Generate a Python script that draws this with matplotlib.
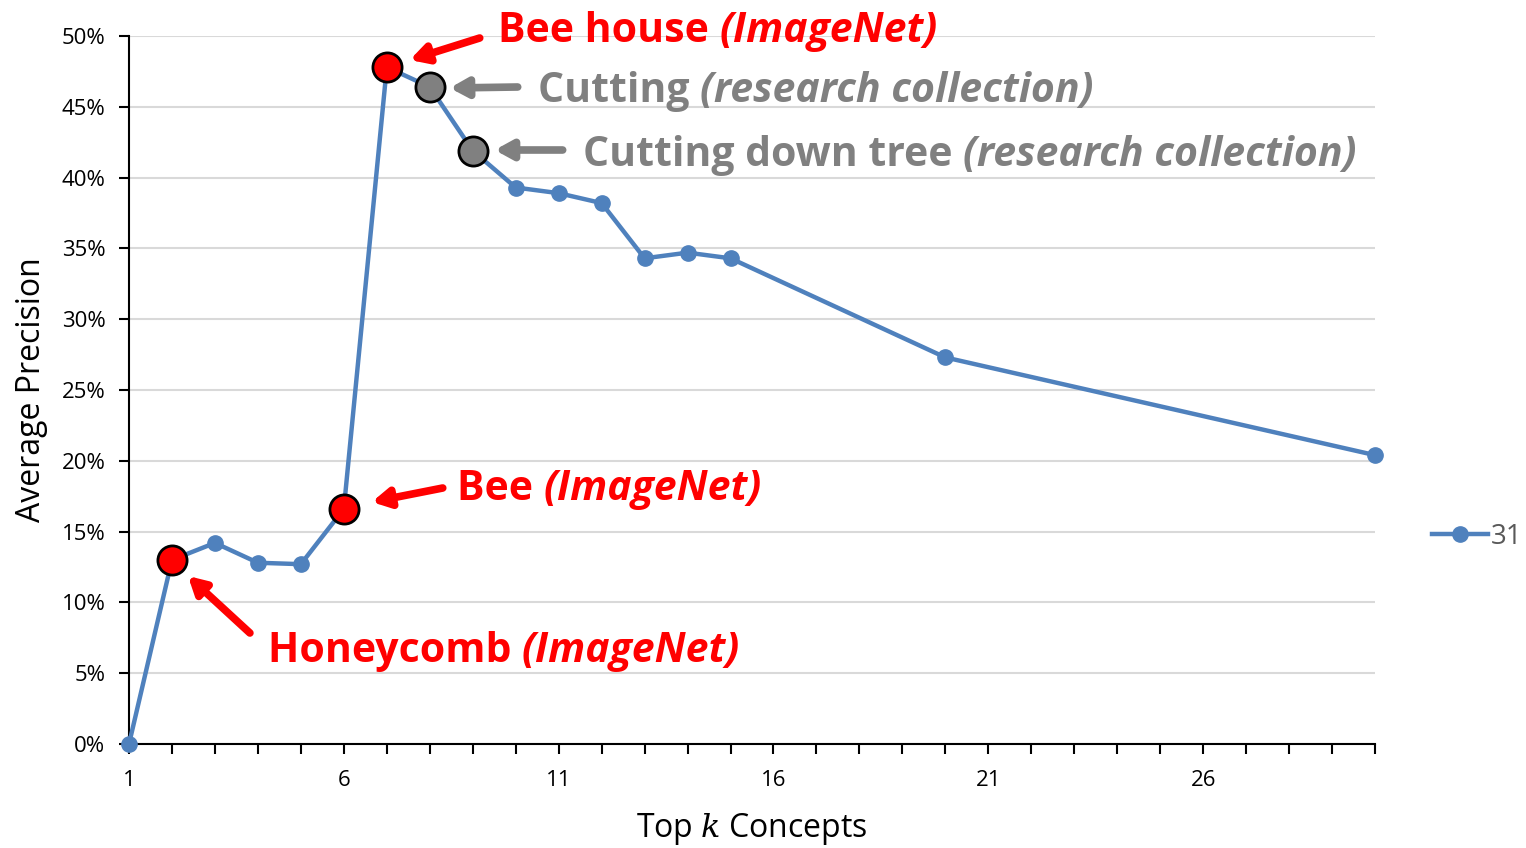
import numpy as np
import matplotlib
matplotlib.use("Agg")
import matplotlib.pyplot as plt
from matplotlib.transforms import offset_copy

plt.rcParams['font.family'] = ['Open Sans', 'DejaVu Sans']
plt.rcParams['mathtext.fontset'] = 'dejavuserif'

# data
k_values = [1, 2, 3, 4, 5, 6, 7, 8, 9, 10, 11, 12, 13, 14, 15, 20, 30]
avg_precision = [0.0, 13.0, 14.2, 12.8, 12.7, 16.6, 47.8, 46.4, 41.9, 39.3, 38.9,
                 38.2, 34.3, 34.7, 34.3, 27.3, 20.4]
series_name = "31"
red_points = [2, 6, 7]      # k of the ImageNet concepts
grey_points = [8, 9]        # k of the research collection concepts
x_tick_labels = [1, 6, 11, 16, 21, 26]

fig = plt.figure(figsize=(15.26, 8.48), dpi=100)
ax = fig.add_axes([129/1526, 1-744/848, 1246/1526, 708/848])

y = np.array(avg_precision) / 100
ax.plot(k_values, y, color='#4F81BD', lw=3.2, marker='o', markersize=11,
        label=series_name, clip_on=False, zorder=3)

for kk, col in [(k, 'red') for k in red_points] + [(k, '#808080') for k in grey_points]:
    i = k_values.index(kk)
    ax.plot([kk], [y[i]], 'o', markersize=21, markerfacecolor=col,
            markeredgecolor='black', markeredgewidth=2, zorder=4)

ax.set_xlim(1, 30)
ax.set_ylim(0, 0.5)
ax.set_xticks(range(1, 31), minor=True)
ax.set_xticks(x_tick_labels)
ax.set_xticklabels([str(v) for v in x_tick_labels])
ax.set_yticks(np.arange(0, 0.51, 0.05))
ax.set_yticklabels(['%d%%' % round(v * 100) for v in np.arange(0, 0.51, 0.05)])
ax.tick_params(axis='both', labelsize=16, direction='out', length=7, width=1.5, color='black')
ax.tick_params(axis='x', which='minor', length=7, width=1.5)
ax.tick_params(axis='x', pad=12)
ax.tick_params(axis='y', pad=10)

ax.grid(axis='y', color='#D9D9D9', lw=1.5)
ax.set_axisbelow(True)
for s in ['top', 'right']:
    ax.spines[s].set_visible(False)
ax.spines['left'].set_linewidth(1.5)
ax.spines['bottom'].set_linewidth(1.5)

ax.set_ylabel('Average Precision', fontsize=23, labelpad=10)
ax.set_xlabel('Top $k$ Concepts', fontsize=23, labelpad=14)

fig.legend(loc='center left', bbox_to_anchor=(1432/1526, 1-537/848), frameon=False,
           fontsize=20, labelcolor='#595959', handlelength=2.0, handletextpad=0.1,
           borderpad=0, borderaxespad=0)

# annotations
def to_data(px, py):
    return 1 + (px - 129) / 43.0, (744 - py) / 14.16 / 100

def label(px, py, s1, s2, col):
    x0, y0 = to_data(px, py)
    t = ax.text(x0, y0, s1, color=col, fontsize=29.5, fontweight='bold',
                va='center', ha='left', clip_on=False)
    fig.canvas.draw()
    w = t.get_window_extent(fig.canvas.get_renderer()).width
    ax.text(x0, y0, s2, color=col, fontsize=29.5, fontweight='bold', style='italic',
            va='center', ha='left', clip_on=False,
            transform=offset_copy(ax.transData, fig=fig, x=w, units='dots'))

def arrow(tx, ty, hx, hy, col):
    ax.annotate('', xy=to_data(hx, hy), xytext=to_data(tx, ty),
                arrowprops=dict(arrowstyle='-|>,head_width=0.55,head_length=1.0',
                                color=col, lw=5.5, shrinkA=0, shrinkB=0), annotation_clip=False)

label(498, 32, 'Bee house ', '(ImageNet)', 'red')
label(538, 92, 'Cutting ', '(research collection)', '#808080')
label(583, 156, 'Cutting down tree ', '(research collection)', '#808080')
label(457, 489, 'Bee ', '(ImageNet)', 'red')
label(268, 652, 'Honeycomb ', '(ImageNet)', 'red')

arrow(480, 38, 410, 60, 'red')
arrow(518, 87, 450, 88, '#808080')
arrow(563, 150, 495, 150, '#808080')
arrow(443, 488, 372, 502, 'red')
arrow(250, 633, 188, 576, 'red')

fig.savefig('out.png', dpi=100)
